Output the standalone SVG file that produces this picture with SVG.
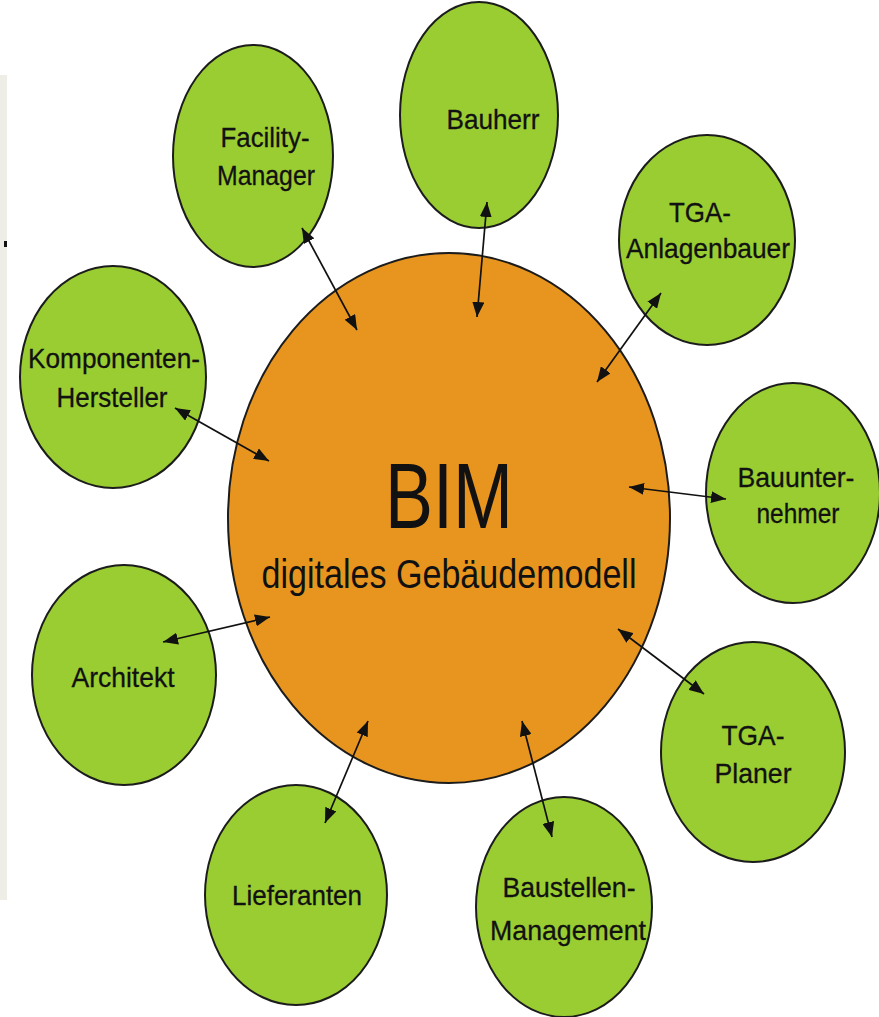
<svg xmlns="http://www.w3.org/2000/svg" width="879" height="1017" viewBox="0 0 879 1017">
  <defs>
    <style>
      .node { fill: #9acd32; stroke: #1c1c1c; stroke-width: 2; }
      .core { fill: #e8951f; stroke: #1c1c1c; stroke-width: 2; }
      .lbl { font-family: "Liberation Sans", Arial, sans-serif; font-size: 28px; fill: #111; text-anchor: middle; stroke: #111; stroke-width: 0.3; }
      .link { stroke: #111; stroke-width: 1.7; fill: none; marker-start: url(#tip); marker-end: url(#tip); }
    </style>
    <marker id="tip" markerUnits="userSpaceOnUse" markerWidth="16" markerHeight="12" refX="15" refY="6" orient="auto-start-reverse">
      <path d="M0,0 L15,6 L0,12 Z" fill="#111"/>
    </marker>
  </defs>

  <rect width="879" height="1017" fill="#ffffff"/>
  <!-- side strip -->
  <rect x="0" y="75" width="7" height="825" fill="#eeeee6"/>
  <rect x="4" y="241" width="3" height="6" fill="#111"/>

  <g id="bim">
    <ellipse class="core" cx="449" cy="518" rx="221" ry="265"/>
    <text x="449" y="528" font-family="Liberation Sans, Arial, sans-serif" font-size="92" fill="#111" text-anchor="middle" textLength="128" lengthAdjust="spacingAndGlyphs">BIM</text>
    <text x="449" y="588" font-family="Liberation Sans, Arial, sans-serif" font-size="40" fill="#111" text-anchor="middle" textLength="375" lengthAdjust="spacingAndGlyphs">digitales Gebäudemodell</text>
  </g>

  <g id="facility-manager">
    <ellipse class="node" cx="253" cy="156" rx="80" ry="111"/>
    <text class="lbl" x="265" y="147" textLength="89" lengthAdjust="spacingAndGlyphs">Facility-</text>
    <text class="lbl" x="266" y="185" textLength="98" lengthAdjust="spacingAndGlyphs">Manager</text>
  </g>

  <g id="bauherr">
    <ellipse class="node" cx="479" cy="115" rx="79" ry="113"/>
    <text class="lbl" x="493" y="129" textLength="93" lengthAdjust="spacingAndGlyphs">Bauherr</text>
  </g>

  <g id="tga-anlagenbauer">
    <ellipse class="node" cx="707" cy="240" rx="88" ry="105"/>
    <text class="lbl" x="700" y="222" textLength="62" lengthAdjust="spacingAndGlyphs">TGA-</text>
    <text class="lbl" x="708" y="258" textLength="164" lengthAdjust="spacingAndGlyphs">Anlagenbauer</text>
  </g>

  <g id="bauunternehmer">
    <ellipse class="node" cx="793" cy="493" rx="87" ry="110"/>
    <text class="lbl" x="796" y="487" textLength="117" lengthAdjust="spacingAndGlyphs">Bauunter-</text>
    <text class="lbl" x="798" y="523" textLength="83" lengthAdjust="spacingAndGlyphs">nehmer</text>
  </g>

  <g id="tga-planer">
    <ellipse class="node" cx="753" cy="752" rx="92" ry="110"/>
    <text class="lbl" x="753" y="745" textLength="63" lengthAdjust="spacingAndGlyphs">TGA-</text>
    <text class="lbl" x="753" y="783" textLength="77" lengthAdjust="spacingAndGlyphs">Planer</text>
  </g>

  <g id="baustellen-management">
    <ellipse class="node" cx="564" cy="907" rx="88" ry="110"/>
    <text class="lbl" x="569" y="897" textLength="133" lengthAdjust="spacingAndGlyphs">Baustellen-</text>
    <text class="lbl" x="568" y="940" textLength="156" lengthAdjust="spacingAndGlyphs">Management</text>
  </g>

  <g id="lieferanten">
    <ellipse class="node" cx="296" cy="895" rx="91" ry="110"/>
    <text class="lbl" x="297" y="905" textLength="130" lengthAdjust="spacingAndGlyphs">Lieferanten</text>
  </g>

  <g id="architekt">
    <ellipse class="node" cx="124" cy="675" rx="92" ry="110"/>
    <text class="lbl" x="123" y="687" textLength="103" lengthAdjust="spacingAndGlyphs">Architekt</text>
  </g>

  <g id="komponenten-hersteller">
    <ellipse class="node" cx="113" cy="377" rx="93" ry="111"/>
    <text class="lbl" x="114" y="368" textLength="172" lengthAdjust="spacingAndGlyphs">Komponenten-</text>
    <text class="lbl" x="112" y="407" textLength="111" lengthAdjust="spacingAndGlyphs">Hersteller</text>
  </g>

  <g id="connectors">
    <line class="link" x1="302" y1="228" x2="357" y2="330"/>
    <line class="link" x1="487" y1="202" x2="477" y2="317"/>
    <line class="link" x1="661" y1="293" x2="597" y2="382"/>
    <line class="link" x1="629" y1="487" x2="726" y2="499"/>
    <line class="link" x1="618" y1="629" x2="704" y2="694"/>
    <line class="link" x1="522" y1="721" x2="552" y2="837"/>
    <line class="link" x1="368" y1="721" x2="325" y2="823"/>
    <line class="link" x1="270" y1="617" x2="163" y2="642"/>
    <line class="link" x1="175" y1="408" x2="269" y2="461"/>
  </g>
</svg>
